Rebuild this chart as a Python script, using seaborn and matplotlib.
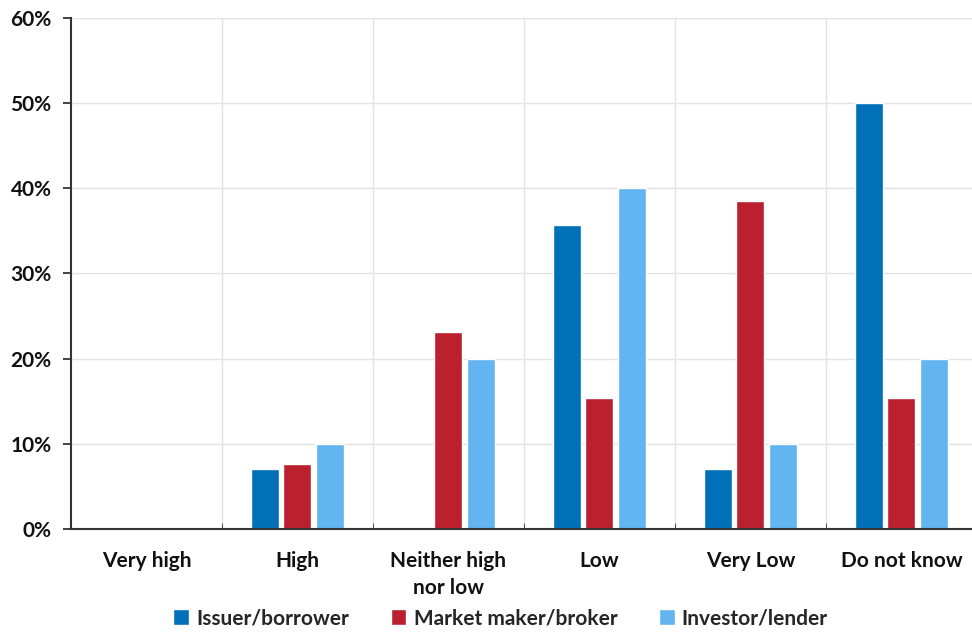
import numpy as np
import pandas as pd
import matplotlib.pyplot as plt
from matplotlib.ticker import PercentFormatter, FixedLocator
import seaborn as sns

sns.set_style("white")
plt.rcParams['font.family'] = ['Lato', 'DejaVu Sans']

categories = ["Very high", "High", "Neither high\nnor low", "Low", "Very Low", "Do not know"]
series = ["Issuer/borrower", "Market maker/broker", "Investor/lender"]
issuer = [0, 7.1, 0, 35.7, 7.1, 50.0]
market = [0, 7.7, 23.1, 15.4, 38.5, 15.4]
investor = [0, 10.0, 20.0, 40.0, 10.0, 20.0]
colors = ["#0070B8", "#BA202E", "#62B5F0"]

df = pd.DataFrame({
    "category": categories * 3,
    "series": np.repeat(series, len(categories)),
    "value": issuer + market + investor,
})

fig = plt.figure(figsize=(9.72, 6.33), dpi=100)
ax = fig.add_axes([0.073, 0.164, 0.932, 0.808])

sns.barplot(data=df, x="category", y="value", hue="series", palette=colors,
            width=0.65, gap=0.14, ax=ax, saturation=1, legend=True)

ax.set_ylim(0, 60)
ax.set_xlim(-0.5, 5.5)
ax.set_yticks(np.arange(0, 61, 10))
ax.yaxis.set_major_formatter(PercentFormatter(decimals=0))
ax.xaxis.set_minor_locator(FixedLocator(np.arange(0.5, 5.6, 1)))
ax.grid(axis="y", which="major", color="#e3e3e3", lw=1)
ax.grid(axis="x", which="minor", color="#e3e3e3", lw=1)
ax.set_axisbelow(True)
ax.set_xlabel("")
ax.set_ylabel("")
for s in ["top", "right"]:
    ax.spines[s].set_visible(False)
for s in ["left", "bottom"]:
    ax.spines[s].set_color("#333333")
    ax.spines[s].set_linewidth(1.5)
ax.tick_params(axis="y", which="major", left=True, length=6, width=1.3,
               color="#333333", labelsize=15, pad=8)
ax.tick_params(axis="x", which="major", bottom=False, labelsize=15, pad=12)
ax.tick_params(axis="x", which="minor", bottom=True, direction="in", length=4,
               color="#333333")
for lbl in ax.get_xticklabels() + ax.get_yticklabels():
    lbl.set_fontweight("bold")
    lbl.set_color("#111111")
for lbl in ax.get_xticklabels():
    lbl.set_linespacing(1.45)

handles, labels = ax.get_legend_handles_labels()
ax.get_legend().remove()
leg = fig.legend(handles, labels, loc="lower center", bbox_to_anchor=(0.515, -0.022),
                 ncol=3, frameon=False, handlelength=0.75, handleheight=0.75,
                 columnspacing=2.0, handletextpad=0.35,
                 prop={"weight": "bold", "size": 15})

fig.savefig("out.png", dpi=100)
